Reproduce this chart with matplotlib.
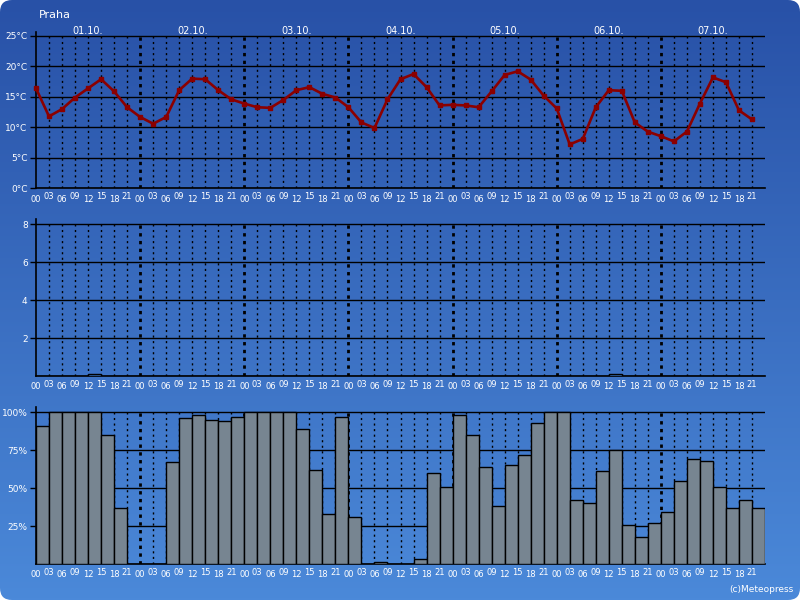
import numpy as np
import matplotlib
matplotlib.use("Agg")
import matplotlib.pyplot as plt
from matplotlib.patches import FancyBboxPatch

# ===== DATA =====
hours = ["00", "03", "06", "09", "12", "15", "18", "21"]
days = ["01.10.", "02.10.", "03.10.", "04.10.", "05.10.", "06.10.", "07.10."]

temperature = [16.4, 11.8, 13.0, 14.9, 16.4, 17.9, 15.9, 13.3,
               11.7, 10.6, 11.7, 16.1, 18.0, 17.9, 16.1, 14.6,
               13.9, 13.3, 13.2, 14.5, 16.1, 16.6, 15.5, 14.9,
               13.3, 10.8, 9.9, 14.6, 17.9, 18.75, 16.6, 13.6,
               13.7, 13.6, 13.3, 15.9, 18.6, 19.2, 17.85, 15.2,
               13.1, 7.2, 8.1, 13.3, 16.1, 16.0, 10.8, 9.3,
               8.55, 7.7, 9.3, 13.9, 18.2, 17.4, 12.8, 11.3]

precipitation = [0, 0, 0, 0, 0.1, 0, 0, 0,
                 0, 0, 0, 0, 0, 0, 0, 0,
                 0, 0, 0, 0, 0, 0, 0, 0,
                 0, 0, 0, 0, 0, 0, 0, 0,
                 0, 0, 0, 0, 0, 0, 0, 0,
                 0, 0, 0, 0, 0.1, 0, 0, 0,
                 0, 0, 0, 0, 0, 0, 0, 0]

cloud_cover = [91, 100, 100, 100, 100, 85, 37, 0,
               0, 0, 67, 96, 98, 95, 94, 97,
               100, 100, 100, 100, 89, 62, 33, 97,
               31, 0, 1, 0, 0, 3, 60, 51,
               98, 85, 64, 38, 65, 72, 93, 100,
               100, 42, 40, 61, 75, 26, 18, 27,
               34, 55, 69, 68, 51, 37, 42, 37]

temp_ticks = [0, 5, 10, 15, 20, 25]
temp_labels = ["0°C", "5°C", "10°C", "15°C", "20°C", "25°C"]
precip_ticks = [2, 4, 6, 8]
precip_labels = ["2", "4", "6", "8"]
cloud_ticks = [25, 50, 75, 100]
cloud_labels = ["25%", "50%", "75%", "100%"]

n = len(temperature)
x = np.arange(n)
hour_labels = [hours[i % 8] for i in range(n)]

W, H = 800, 600
fig = plt.figure(figsize=(8, 6), dpi=100, facecolor="white")

# ===== BACKGROUND GRADIENT WITH ROUNDED CORNERS =====
bg = fig.add_axes([0, 0, 1, 1], zorder=-10)
bg.set_xlim(0, W)
bg.set_ylim(0, H)
bg.axis("off")
top_c = np.array([40, 81, 167]) / 255
bot_c = np.array([75, 137, 217]) / 255
t = np.linspace(0, 1, 300)[:, None]
grad = (top_c[None, :] * (1 - t) + bot_c[None, :] * t)[:, None, :]
im = bg.imshow(grad, extent=[0, W, 0, H], aspect="auto", origin="upper")
clip = FancyBboxPatch((0, 0), W, H, boxstyle="round,pad=0,rounding_size=12",
                      transform=bg.transData, facecolor="none", edgecolor="none")
bg.add_patch(clip)
im.set_clip_path(clip)

FS = 6.5


def px_axes(top_px, bottom_px):
    left = 36 / W
    width = (765 - 36) / W
    return fig.add_axes([left, 1 - bottom_px / H, width, (bottom_px - top_px) / H])


def style_axes(ax, ymax, top_line, ticks, labels):
    ax.set_facecolor("none")
    ax.set_xlim(0, n)
    ax.set_ylim(0, ymax)
    for s in ["top", "right"]:
        ax.spines[s].set_visible(False)
    ax.spines["left"].set_color("black")
    ax.spines["bottom"].set_color("black")
    ax.spines["left"].set_linewidth(1.2)
    ax.spines["bottom"].set_linewidth(1.2)
    for v in ticks:
        ax.axhline(v, color="black", lw=1.0, zorder=1)
    # vertical dotted lines every 3 hours, thicker at midnight
    for i in range(1, n):
        if i % 8 == 0:
            ax.vlines(i, 0, top_line, colors="black", lw=2.0,
                      linestyles=(0, (1.2, 1.6)), zorder=1)
        else:
            ax.vlines(i, 0, top_line, colors="black", lw=1.0,
                      linestyles=(0, (1.5, 2.5)), zorder=1)
    ax.set_yticks(ticks)
    ax.set_yticklabels(labels)
    ax.tick_params(axis="y", direction="out", length=4, width=1, color="black",
                   labelcolor="white", labelsize=FS, pad=2)
    ax.set_xticks([])
    for i in range(n):
        off = -4.6 if i % 2 == 0 else -2.8
        ax.annotate(hour_labels[i], xy=(i, 0), xycoords=("data", "axes fraction"),
                    xytext=(0, off), textcoords="offset points",
                    ha="center", va="top", color="white", fontsize=6)


# ===== TEMPERATURE =====
ax_t = px_axes(31.7, 188.3)
style_axes(ax_t, 25.7, 25, temp_ticks, temp_labels)
ax_t.plot(x, temperature, color="#8b0000", lw=1.9, marker="s", markersize=3,
          zorder=3, clip_on=False)
for d, lab in enumerate(days):
    ax_t.annotate(lab, xy=(8 * d + 4, 0), xycoords=("data", "figure fraction"),
                  xytext=(0, (H - 30.5) * 0.72), textcoords="offset points",
                  ha="center", va="center", color="white", fontsize=7)

# ===== PRECIPITATION =====
ax_p = px_axes(219.3, 376)
style_axes(ax_p, 8.26, 8, precip_ticks, precip_labels)
ax_p.bar(x, precipitation, width=1, align="edge", color="#3f7fd0",
         edgecolor="black", lw=1, zorder=3)

# ===== CLOUD COVER =====
ax_c = px_axes(407.3, 564)
style_axes(ax_c, 103.3, 100, cloud_ticks, cloud_labels)
ax_c.bar(x, cloud_cover, width=1, align="edge", color="#778591",
         edgecolor="black", lw=1, zorder=3)

fig.text(39 / W, 1 - 15 / H, "Praha", color="white", fontsize=8,
         ha="left", va="center")
fig.text(793 / W, 1 - 590 / H, "(c)Meteopress", color="white", fontsize=6.5,
         ha="right", va="center")

plt.savefig("out.png", dpi=100, facecolor="white")
